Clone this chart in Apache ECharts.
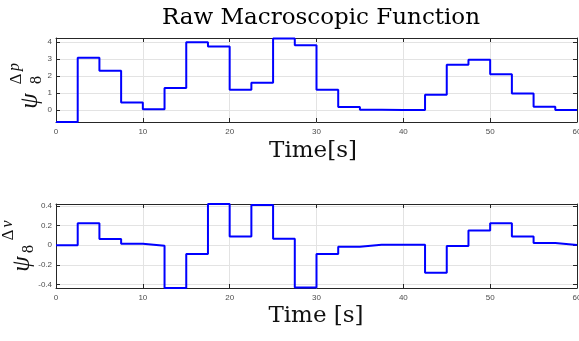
<!DOCTYPE html>
<html>
<head>
<meta charset="utf-8">
<script src="https://cdn.jsdelivr.net/npm/echarts@6/dist/echarts.min.js"></script>
<style>
html,body{margin:0;padding:0;background:#fff;}
#chart{width:579px;height:341px;}
</style>
</head>
<body>
<div id="chart"></div>
<script>
// 时间步 (每段 2.5 s)
var times = [0,2.5,5,7.5,10,12.5,15,17.5,20,22.5,25,27.5,30,32.5,35,37.5,40,42.5,45,47.5,50,52.5,55,57.5,60];
// 上图 psi_8^{Δp}
var dpValues = [-0.7,3.08,2.32,0.45,0.05,1.3,4.0,3.75,1.2,1.62,4.22,3.83,1.2,0.19,0.02,0.01,0.0,0.9,2.68,2.97,2.12,0.98,0.2,0.0,0.0];
// 下图 psi_8^{Δv}
var dvValues = [0,0.225,0.064,0.015,-0.004,-0.435,-0.09,0.42,0.088,0.41,0.067,-0.43,-0.088,-0.015,0.004,0.004,0.004,-0.28,-0.007,0.15,0.224,0.09,0.022,0.003,0.003];
var xTicks = [0,10,20,30,40,50,60];
var dpTicks = [0,1,2,3,4];
var dvTicks = [-0.4,-0.2,0,0.2,0.4];

function pairs(vals){
	var out = [];
	for(var i=0;i<times.length;i++){ out.push([times[i], vals[i]]); }
	return out;
}

var chart = echarts.init(document.getElementById('chart'));
var axisColor = '#262626';
var serif = 'DejaVu Serif';

// 坐标轴工具
function xAx(gi, pos, showLabel){
	return {
		type:'value', gridIndex:gi, position:pos, min:0, max:60, interval:10,
		axisLine:{show:true, onZero:false, lineStyle:{color:axisColor, width:1}},
		axisTick:{show:true, inside:true, length:4, lineStyle:{color:axisColor}},
		axisLabel:{show:showLabel, fontSize:8, color:'#4d4d4d', margin:6, fontFamily:'Liberation Sans'},
		splitLine:{show:pos==='bottom', lineStyle:{color:'#e3e3e3', width:1}}
	};
}
function yAx(gi, pos, min, max, ticks, showLabel){
	return {
		type:'value', gridIndex:gi, position:pos, min:min, max:max,
		axisLine:{show:true, onZero:false, lineStyle:{color:axisColor, width:1}},
		axisTick:{show:true, inside:true, length:4, customValues:ticks, lineStyle:{color:axisColor}},
		axisLabel:{show:showLabel, fontSize:8, color:'#4d4d4d', margin:4, customValues:ticks, fontFamily:'Liberation Sans'},
		splitLine:{show:pos==='left', lineStyle:{color:'#e3e3e3', width:1}}
	};
}
// 旋转的文字
function rotText(x, y, txt, font){
	return {type:'text', x:x, y:y, rotation:Math.PI/2,
		style:{text:txt, font:font, fill:'#111', align:'center', verticalAlign:'middle'}};
}

var option = {
	animation:false,
	title:{
		text:'Raw Macroscopic Function',
		left:316, top:2, textAlign:'center',
		textStyle:{fontFamily:serif, fontWeight:'normal', fontSize:23, color:'#000'}
	},
	grid:[
		{left:56, right:2, top:38, height:84, outerBoundsMode:'none'},
		{left:56, right:2, top:204, height:84, outerBoundsMode:'none'}
	],
	xAxis:[
		xAx(0,'bottom',true), xAx(0,'top',false),
		xAx(1,'bottom',true), xAx(1,'top',false)
	],
	yAxis:[
		yAx(0,'left',-0.7,4.25,dpTicks,true), yAx(0,'right',-0.7,4.25,dpTicks,false),
		yAx(1,'left',-0.435,0.42,dvTicks,true), yAx(1,'right',-0.435,0.42,dvTicks,false)
	],
	graphic:[
		{type:'text', x:313, y:151, style:{text:'Time[s]', font:'23px "DejaVu Serif"', fill:'#111', align:'center', verticalAlign:'middle'}},
		{type:'text', x:316, y:316, style:{text:'Time [s]', font:'23px "DejaVu Serif"', fill:'#111', align:'center', verticalAlign:'middle'}},
		// y轴标签 psi_8^{Δp}
		rotText(30, 101, 'ψ', 'italic 25px "Liberation Serif"'),
		rotText(37, 80, '8', '16px "Liberation Serif"'),
		rotText(17, 79, 'Δ', '17px "Liberation Serif"'),
		rotText(15, 67, 'p', 'italic 16px "Liberation Serif"'),
		// y轴标签 psi_8^{Δv}
		rotText(22, 264, 'ψ', 'italic 25px "Liberation Serif"'),
		rotText(29, 249, '8', '16px "Liberation Serif"'),
		rotText(9, 235, 'Δ', '17px "Liberation Serif"'),
		rotText(8, 224, 'v', 'italic 16px "Liberation Serif"')
	],
	series:[
		{type:'line', xAxisIndex:0, yAxisIndex:0, step:'end', data:pairs(dpValues), showSymbol:false,
			lineStyle:{color:'#0000ff', width:2}, clip:false},
		{type:'line', xAxisIndex:2, yAxisIndex:2, step:'end', data:pairs(dvValues), showSymbol:false,
			lineStyle:{color:'#0000ff', width:2}, clip:false}
	]
};
chart.setOption(option);
</script>
</body>
</html>
